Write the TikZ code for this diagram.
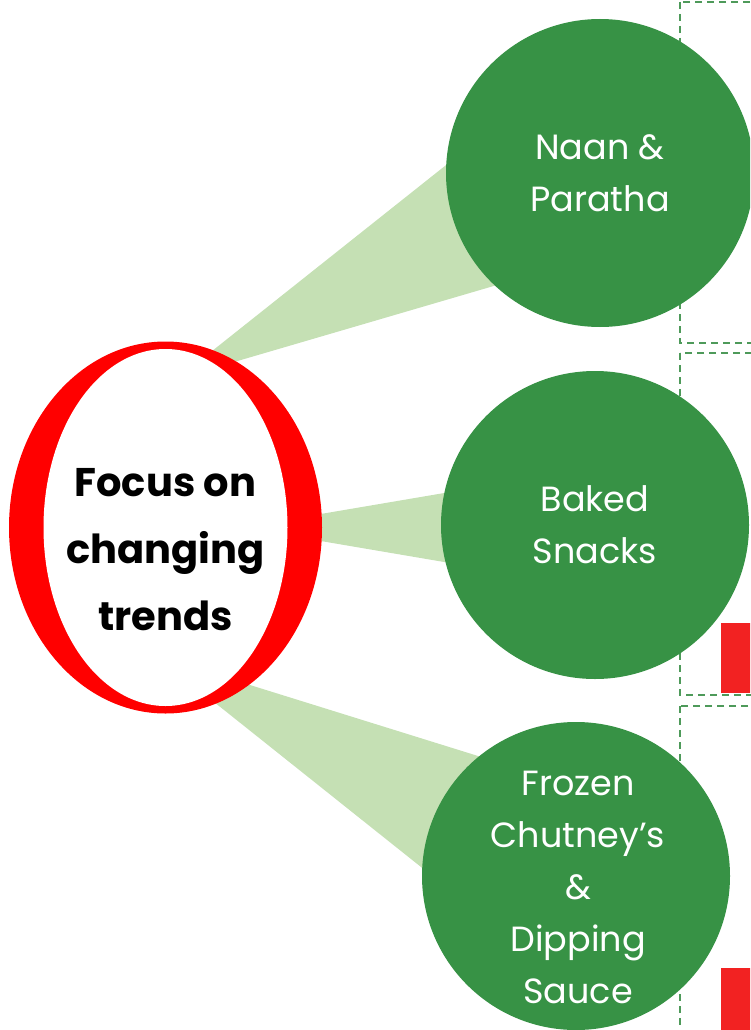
\documentclass[tikz,border=0pt]{standalone}
\usepackage{fontspec}
\setmainfont{Poppins}
\usetikzlibrary{shapes.geometric,backgrounds}
\definecolor{trendgreen}{HTML}{379245}
\definecolor{spokegreen}{HTML}{C5E0B4}
\definecolor{boxgreen}{HTML}{4E9A5A}
\definecolor{barred}{HTML}{F22222}
\begin{document}
\begin{tikzpicture}[x=1pt, y=-1pt,
  product/.style = {shape=circle, fill=trendgreen, text=white,
    minimum size=308pt, inner sep=0pt, outer sep=0pt, align=center,
    font=\fontsize{35}{52}\selectfont},
  spoke/.style = {fill=spokegreen},
  dashbox/.style = {draw=boxgreen, line width=2pt, dash pattern=on 7pt off 5pt},
  redbar/.style = {fill=barred}]
  \useasboundingbox (0,0) rectangle (750,1030);
  \clip (0,0) rectangle (750,1030);
  % centre ellipse with red ring
  \node (focus) [shape=ellipse, fill=red, minimum width=313pt,
    minimum height=372pt, inner sep=0pt, outer sep=0pt] at (165.5,527.5) {};
  \node (focusin) [shape=ellipse, fill=white, minimum width=244pt,
    minimum height=357pt, inner sep=0pt] at (focus.center) {};
  \node (focustext) [align=center, font=\fontsize{40}{67}\selectfont\bfseries]
    at ([yshift=-22pt]focus.center) {Focus on\\changing\\trends};
  % products
  \node (naan) [product] at (600,173) {Naan \&\\Paratha};
  \node (baked) [product] at (595,525) {Baked\\Snacks};
  \node (frozen) [product] at (576,876) {};
  \node (frozentext) [align=center, text=white, font=\fontsize{35}{52}\selectfont]
    at ([xshift=2pt, yshift=-11pt]frozen.center) {Frozen\\Chutney’s\\\&\\Dipping\\Sauce};
  \fill[redbar] (721,623) rectangle (770,693);
  \fill[redbar] (721,968) rectangle (770,1040);
  \begin{scope}[on background layer]
    \draw[dashbox] (680,2) rectangle (800,343);
    \draw[dashbox] (680,353) rectangle (800,695);
    \draw[dashbox] (680,706) rectangle (800,1100);
    \fill[spoke] (focus.75) -- (naan.177) -- (naan.227) -- (focus.67) -- cycle;
    \fill[spoke] (focus.5) -- (baked.168) -- (baked.194) -- (focus.-5) -- cycle;
    \fill[spoke] (focus.-62) -- (frozen.129) -- (frozen.177) -- (focus.-74) -- cycle;
  \end{scope}
\end{tikzpicture}
\end{document}
